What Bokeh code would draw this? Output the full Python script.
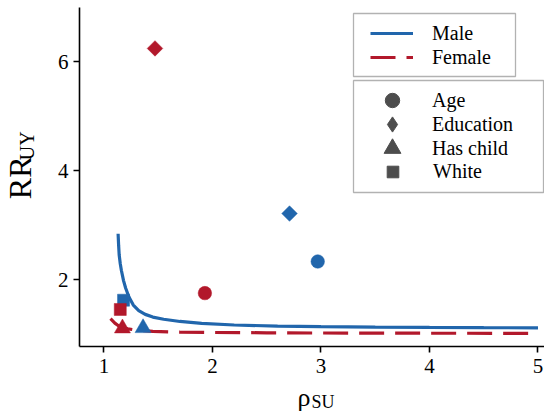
from math import pi, nan
from bokeh.plotting import figure
from bokeh.layouts import row, column
from bokeh.models import (Legend, LegendItem, BoxAnnotation, FixedTicker, Range1d)
from bokeh.core.properties import value
from bokeh.embed import file_html
from bokeh.resources import INLINE

# ---------------- data ----------------
male_rho = [1.13, 1.135, 1.14, 1.15, 1.16, 1.18, 1.20, 1.23, 1.27, 1.32, 1.38,
            1.45, 1.55, 1.70, 1.90, 2.20, 2.60, 3.00, 3.50, 4.00, 4.50, 5.00]
male_rr = [2.84, 2.62, 2.45, 2.29, 2.17, 1.98, 1.84, 1.68, 1.53, 1.43, 1.36,
           1.31, 1.27, 1.23, 1.195, 1.165, 1.145, 1.135, 1.125, 1.12, 1.116, 1.114]

female_rho = [1.06, 1.08, 1.10, 1.13, 1.17, 1.22, 1.30, 1.45, 1.70, 2.00,
              2.50, 3.00, 4.00, 5.00]
female_rr = [1.28, 1.24, 1.20, 1.155, 1.12, 1.095, 1.07, 1.048, 1.035, 1.028,
             1.022, 1.018, 1.014, 1.012]

covariates = ["Age", "Education", "Has child", "White"]
male_pt_rho = [2.97, 2.71, 1.36, 1.18]
male_pt_rr = [2.33, 3.21, 1.11, 1.62]
female_pt_rho = [1.93, 1.47, 1.17, 1.15]
female_pt_rr = [1.75, 6.24, 1.105, 1.45]

x_ticks = [1, 2, 3, 4, 5]
y_ticks = [2, 4, 6]

# ---------------- styles ----------------
BLUE = "#2166AC"
RED = "#B2182B"
GRAY = "#4D4D4D"
FONT = "Liberation Serif"

plot_markers = {"Age": ("circle", 13.5, 0.0),
                "Education": ("square", 11, pi / 4),
                "Has child": ("triangle", 16, 0.0),
                "White": ("square", 12, 0.0)}
legend_markers = {"Age": ("circle", 36),
                  "Education": ("diamond", 38),
                  "Has child": ("triangle", 42),
                  "White": ("square", 29)}   # glyph box (marker = 0.4 * box)

# ---------------- layout (pixels from the top-left of the whole layout) ----------------
TOTAL_W, TOTAL_H = 544, 412
LEFT_W = 40                      # strip with the y title
FRAME_LEFT, FRAME_TOP, FRAME_BOTTOM = 79, 7, 346
MAIN_H = 382                     # main figure height
BOTTOM_H = TOTAL_H - MAIN_H      # strip with the x title
MAIN_W = TOTAL_W - LEFT_W
MID = 0.3375                     # baseline -> text-box middle, in em


def fx(px):
    return px - FRAME_LEFT


def fy(py):
    return FRAME_BOTTOM - py


# ---------------- main figure ----------------
p = figure(width=MAIN_W, height=MAIN_H, output_backend="svg", toolbar_location=None,
           x_range=Range1d(0.7742, 5.060), y_range=Range1d(0.7706, 6.991),
           min_border_left=FRAME_LEFT - LEFT_W, min_border_right=0,
           min_border_top=FRAME_TOP, min_border_bottom=MAIN_H - FRAME_BOTTOM)
p.outline_line_color = None
p.grid.visible = False

for ax in (p.xaxis[0], p.yaxis[0]):
    ax.axis_line_color = "black"
    ax.axis_line_width = 1.6
    ax.major_tick_line_color = "black"
    ax.major_tick_line_width = 1.6
    ax.major_tick_out = 6
    ax.major_tick_in = 0
    ax.minor_tick_line_color = None
    ax.major_label_text_font = FONT
    ax.major_label_text_font_size = "21px"
    ax.major_label_text_color = "black"
p.xaxis[0].ticker = FixedTicker(ticks=x_ticks)
p.yaxis[0].ticker = FixedTicker(ticks=y_ticks)
p.xaxis[0].major_label_standoff = 6
p.yaxis[0].major_label_standoff = 5

# curves
male_line = p.line(male_rho, male_rr, line_color=BLUE, line_width=3.2)
female_line = p.line(female_rho, female_rr, line_color=RED, line_width=3.2,
                     line_dash="25 11")

# points
for rho, rr, col in ((male_pt_rho, male_pt_rr, BLUE), (female_pt_rho, female_pt_rr, RED)):
    for i, cov in enumerate(covariates):
        mk, sz, ang = plot_markers[cov]
        p.scatter([rho[i]], [rr[i]], marker=mk, size=sz, angle=ang,
                  fill_color=col, line_color=col, line_width=0.5)

# ---------------- legends ----------------
box_kw = dict(left_units="screen", right_units="screen", top_units="screen",
              bottom_units="screen", fill_color="white", fill_alpha=1.0,
              line_color="black", line_width=1.3)
p.add_layout(BoxAnnotation(left=fx(353), right=fx(515), top=fy(13), bottom=fy(76), **box_kw))
p.add_layout(BoxAnnotation(left=fx(353), right=fx(543), top=fy(80), bottom=fy(192), **box_kw))

common = dict(border_line_color=None, background_fill_alpha=0.0, padding=0,
              margin=0, spacing=0, label_text_font=FONT,
              label_text_font_size="20px", label_text_color="black")

leg_lines = Legend(items=[LegendItem(label="Male", renderers=[male_line]),
                          LegendItem(label="Female", renderers=[female_line])],
                   location=(fx(370), fy(57 + 12)), glyph_width=43,
                   glyph_height=24, label_height=24, label_standoff=19, **common)
p.add_layout(leg_lines)

row_y = {"Age": 100, "Education": 124, "Has child": 148, "White": 172}
mk_x = 392
txt_x = 432
for cov in covariates:
    mk, g = legend_markers[cov]
    r = p.scatter(x=[nan], y=[nan], marker=mk, size=10, fill_color=GRAY, line_color=GRAY)
    leg = Legend(items=[LegendItem(label=cov, renderers=[r])],
                 location=(fx(mk_x - g // 2), fy(row_y[cov] + g // 2)),
                 glyph_width=g, glyph_height=g, label_height=20,
                 label_standoff=int(txt_x - (mk_x + g // 2)), **common)
    p.add_layout(leg)


# ---------------- axis titles (own strips) ----------------
def strip(w, h):
    f = figure(width=w, height=h, output_backend="svg", toolbar_location=None,
               x_range=Range1d(0, w), y_range=Range1d(0, h), min_border=0,
               x_axis_location=None, y_axis_location=None)
    f.outline_line_color = None
    f.grid.visible = False
    return f


tkw = dict(text_font=value(FONT), text_align="left", text_baseline="middle",
           text_color="black")

# y title: "RR" with subscript "UY", reading upwards; baselines at x = 30.7 / 33.3
RR_SIZE, SUB_SIZE = 32, 20
pl = strip(LEFT_W, MAIN_H)
pl.text(x=[30.7 - MID * RR_SIZE], y=[MAIN_H - 216], text=["RR"], angle=pi / 2,
        text_font_size=value(f"{RR_SIZE}px"), **tkw)
pl.text(x=[33.3 - MID * SUB_SIZE], y=[MAIN_H - 172], text=["UY"], angle=pi / 2,
        text_font_size=value(f"{SUB_SIZE}px"), **tkw)

# x title: "ρ" with subscript "SU"; baselines at y = 406 / 408
RHO_SIZE, SU_SIZE = 26, 18
pb = strip(TOTAL_W, BOTTOM_H)
pb.text(x=[297], y=[TOTAL_H - (406 - MID * RHO_SIZE)], text=["ρ"],
        text_font_size=value(f"{RHO_SIZE}px"), **tkw)
pb.text(x=[311], y=[TOTAL_H - (408 - MID * SU_SIZE)], text=["SU"],
        text_font_size=value(f"{SU_SIZE}px"), **tkw)

layout = column(row(pl, p), pb)
open("out.html", "w").write(file_html(layout, INLINE))
